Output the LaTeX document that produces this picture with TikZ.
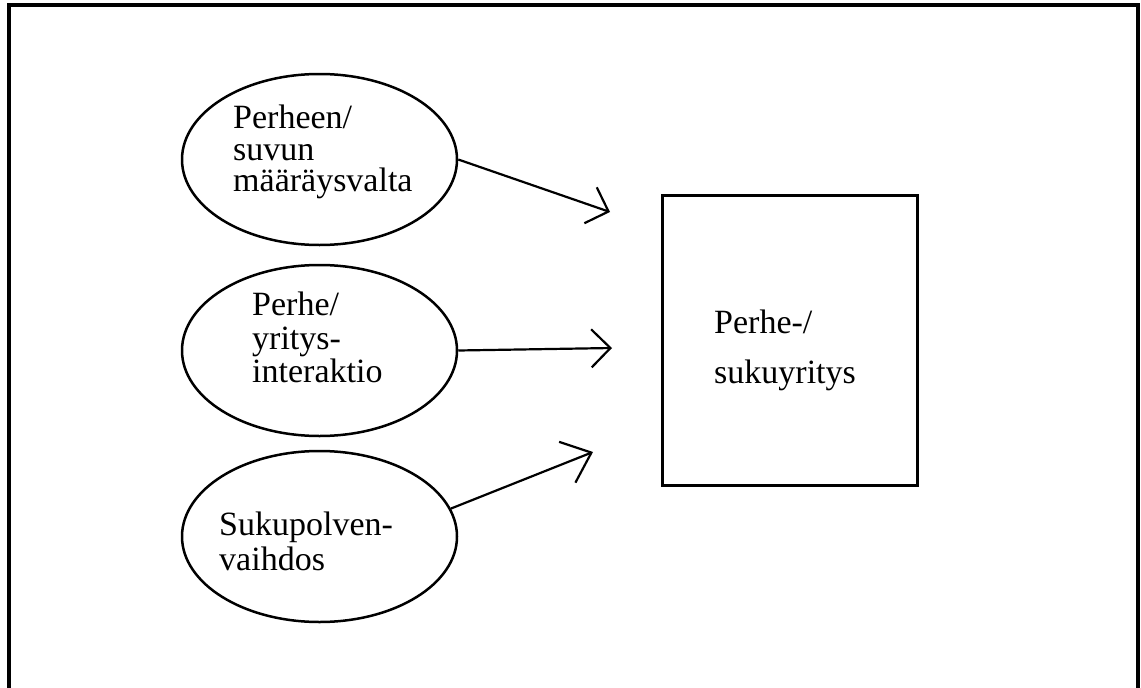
\documentclass[tikz,border=0pt]{standalone}
\usepackage{fontspec}
\setmainfont{Liberation Serif}
\usetikzlibrary{shapes.geometric,arrows.meta}
\begin{document}
\begin{tikzpicture}[x=1pt,y=-1pt,
  factor/.style={ellipse,draw,line width=2.5pt,inner sep=0pt,
    minimum width=275pt,minimum height=171pt},
  firm/.style={rectangle,draw,line width=3pt,inner sep=0pt,
    minimum width=255pt,minimum height=290pt},
  caption/.style={anchor=north west,inner sep=0pt,align=left,font=\fontsize{34}{32}\selectfont},
  influence/.style={line width=2.2pt,-{Straight Barb[length=19pt,width=38pt,line width=2.2pt]}},
  influencebig/.style={line width=2.2pt,-{Straight Barb[length=26pt,width=44pt,line width=2.2pt]}}]
\useasboundingbox (0,0) rectangle (1141,688);
\clip (0,0) rectangle (1141,688);
% outer frame (runs past the lower edge)
\draw[line width=3.2pt] (9,720) -- (9,5) -- (1138,5) -- (1138,720);

% influencing factors
\node[factor] (e1) at (319.5,159.5) {};
\node[factor] (e2) at (319.5,350.5) {};
\node[factor] (e3) at (319.5,536.5) {};
\node[caption,font=\fontsize{34}{31.5}\selectfont] (l1) at (233,105) {Perheen/\\suvun\\määräysvalta};
\node[caption,font=\fontsize{34}{33.5}\selectfont] (l2) at (252,292) {Perhe/\\yritys-\\interaktio};
\node[caption,font=\fontsize{34}{35}\selectfont] (l3) at (219,512) {Sukupolven-\\vaihdos};

% the family firm
\node[firm] (f) at (789.5,340) {};
\node[caption,font=\fontsize{34}{50}\selectfont] (lf) at (714,310) {Perhe-/\\sukuyritys};

% arrow ends
\coordinate (t1) at (610,212);
\coordinate (t2) at (612,348);
\coordinate (t3) at (593,452);

\draw[influence] (e1.east) -- (t1);
\draw[influence] (e2.east) -- (t2);
\draw[influencebig] (e3.12) -- (t3);
\end{tikzpicture}
\end{document}
